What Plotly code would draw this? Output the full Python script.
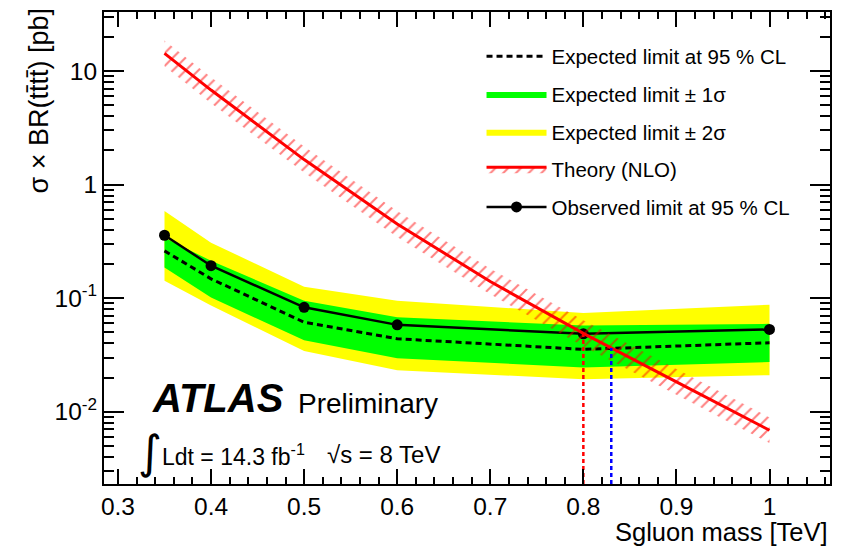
import numpy as np
import plotly.graph_objects as go

# Sgluon mass points of the limit scan [TeV]
mass = [0.35, 0.4, 0.5, 0.6, 0.8, 1.0]
observed = [0.358, 0.193, 0.083, 0.0582, 0.0485, 0.053]
expected = [0.261, 0.148, 0.0614, 0.0439, 0.0354, 0.0405]
exp_1s_hi = [0.341, 0.213, 0.095, 0.0678, 0.0574, 0.0594]
exp_1s_lo = [0.186, 0.1016, 0.0425, 0.0296, 0.0245, 0.0274]
exp_2s_hi = [0.585, 0.308, 0.126, 0.095, 0.074, 0.0877]
exp_2s_lo = [0.1425, 0.086, 0.0342, 0.0232, 0.0193, 0.021]

# NLO sgluon pair cross-section and its uncertainty band [pb]
theory_mass = [0.35, 0.4, 0.5, 0.6, 0.7, 0.8, 0.9, 1.0]
theory = [14.3, 6.8, 1.66, 0.45, 0.14, 0.049, 0.0183, 0.00687]
theory_hi = [18.6, 8.8, 2.16, 0.585, 0.182, 0.064, 0.0238, 0.0089]
theory_lo = [11.0, 5.2, 1.28, 0.346, 0.108, 0.0377, 0.0141, 0.0053]

# Mass limits [TeV]
obs_limit_mass = 0.80
exp_limit_mass = 0.83

x_range = [0.285, 1.065]
y_min, y_max = 0.00231, 33.1

FONT = "Liberation Sans, Arial, Helvetica, sans-serif"
YELLOW = "#ffff00"
GREEN = "#00ff00"

fig = go.Figure()

# +-2 sigma band
fig.add_trace(go.Scatter(x=mass, y=exp_2s_lo, mode="lines", line=dict(width=0),
                         showlegend=False, hoverinfo="skip", legendgroup="s2"))
fig.add_trace(go.Scatter(x=mass, y=exp_2s_hi, mode="lines", line=dict(width=0),
                         fill="tonexty", fillcolor=YELLOW, legendgroup="s2",
                         name="Expected limit \u00b1 2\u03c3", legendrank=3))
# +-1 sigma band
fig.add_trace(go.Scatter(x=mass, y=exp_1s_lo, mode="lines", line=dict(width=0),
                         showlegend=False, hoverinfo="skip", legendgroup="s1"))
fig.add_trace(go.Scatter(x=mass, y=exp_1s_hi, mode="lines", line=dict(width=0),
                         fill="tonexty", fillcolor=GREEN, legendgroup="s1",
                         name="Expected limit \u00b1 1\u03c3", legendrank=2))

# expected limit
fig.add_trace(go.Scatter(x=mass, y=expected, mode="lines", legendgroup="exp",
                         line=dict(color="black", width=3, dash="6px,4px"),
                         name="Expected limit at 95 % CL", legendrank=1))
# observed limit
fig.add_trace(go.Scatter(x=mass, y=observed, mode="lines+markers", legendgroup="obs",
                         line=dict(color="black", width=2.5),
                         marker=dict(color="black", size=11),
                         name="Observed limit at 95 % CL", legendrank=5))

# theory band: hatched on both sides of the central line
hatch = dict(shape="/", fgcolor="red", bgcolor="rgba(0,0,0,0)", size=9, solidity=0.22)
fig.add_trace(go.Scatter(x=theory_mass, y=theory_hi, mode="lines", line=dict(width=0),
                         showlegend=False, hoverinfo="skip", legendgroup="th"))
fig.add_trace(go.Scatter(x=theory_mass, y=theory, mode="lines", legendgroup="th",
                         line=dict(color="red", width=3),
                         fill="tonexty", fillcolor="rgba(0,0,0,0)", fillpattern=hatch,
                         name="Theory (NLO)", legendrank=4))
fig.add_trace(go.Scatter(x=theory_mass, y=theory_lo, mode="lines", line=dict(width=0),
                         fill="tonexty", fillcolor="rgba(0,0,0,0)", fillpattern=hatch,
                         showlegend=False, hoverinfo="skip", legendgroup="th"))

# vertical markers of the observed and expected mass limits
log_th = np.log10(theory)
obs_top = 10 ** np.interp(obs_limit_mass, theory_mass, log_th)
exp_top = 10 ** np.interp(exp_limit_mass, theory_mass, log_th)
fig.add_trace(go.Scatter(x=[obs_limit_mass, obs_limit_mass], y=[y_min, obs_top], mode="lines",
                         line=dict(color="red", width=2.5, dash="4px,3px"),
                         showlegend=False, hoverinfo="skip"))
fig.add_trace(go.Scatter(x=[exp_limit_mass, exp_limit_mass], y=[y_min, exp_top], mode="lines",
                         line=dict(color="blue", width=2.5, dash="4px,3px"),
                         showlegend=False, hoverinfo="skip"))

axis_common = dict(showline=True, linecolor="black", linewidth=2, mirror="ticks",
                   ticks="inside", tickcolor="black", tickwidth=1.5,
                   showgrid=False, zeroline=False,
                   tickfont=dict(family=FONT, size=24.5, color="black"))

fig.update_xaxes(range=x_range, tick0=0.3, dtick=0.1, ticklen=15,
                 minor=dict(dtick=0.02, ticks="inside", ticklen=7, tickwidth=1.5,
                            tickcolor="black", showgrid=False),
                 **axis_common)
fig.update_yaxes(type="log", range=[np.log10(y_min), np.log10(y_max)],
                 tickmode="array", tickvals=[0.01, 0.1, 1, 10],
                 ticktext=["10<sup>-2</sup>", "10<sup>-1</sup>", "1", "10"], ticklen=20,
                 minor=dict(dtick="D1", ticks="inside", ticklen=10, tickwidth=1.5,
                            tickcolor="black", showgrid=False),
                 **axis_common)

fig.add_annotation(text="Sgluon mass [TeV]", xref="paper", yref="paper", x=1.0, y=-0.101,
                   xanchor="right", yanchor="middle", showarrow=False,
                   font=dict(family=FONT, size=25.5, color="black"))
fig.add_annotation(text="\u03c3 \u00d7 BR(tt\u0304tt\u0304) [pb]", xref="paper", yref="paper",
                   x=-0.090, y=1.012, xanchor="center", yanchor="top", textangle=-90,
                   showarrow=False, font=dict(family=FONT, size=27, color="black"))

fig.add_annotation(text="<b><i>ATLAS</i></b>", xref="paper", yref="paper", x=0.063, y=0.182,
                   xanchor="left", yanchor="middle", showarrow=False,
                   font=dict(family=FONT, size=40, color="black"))
fig.add_annotation(text="Preliminary", xref="paper", yref="paper", x=0.265, y=0.170,
                   xanchor="left", yanchor="middle", showarrow=False,
                   font=dict(family=FONT, size=28, color="black"))
fig.add_annotation(text="\u222b", xref="paper", yref="paper", x=0.063, y=0.067,
                   xanchor="center", yanchor="middle", showarrow=False,
                   font=dict(family="DejaVu Sans", size=46, color="black"))
fig.add_annotation(text="Ldt = 14.3 fb<sup>-1</sup>", xref="paper", yref="paper",
                   x=0.077, y=0.062, xanchor="left", yanchor="middle", showarrow=False,
                   font=dict(family=FONT, size=23, color="black"))
fig.add_annotation(text="\u221as = 8 TeV", xref="paper", yref="paper",
                   x=0.305, y=0.062, xanchor="left", yanchor="middle", showarrow=False,
                   font=dict(family=FONT, size=24, color="black"))

fig.update_layout(
    width=843, height=547,
    margin=dict(l=104, r=13, t=10, b=63),
    paper_bgcolor="white", plot_bgcolor="white",
    font=dict(family=FONT, color="black"),
    legend=dict(x=0.52, y=0.948, xanchor="left", yanchor="top",
                bgcolor="rgba(0,0,0,0)", borderwidth=0,
                font=dict(family=FONT, size=20.5, color="black"),
                tracegroupgap=8, itemwidth=60, traceorder="grouped"),
    showlegend=True,
)

fig.write_html("out.html")
